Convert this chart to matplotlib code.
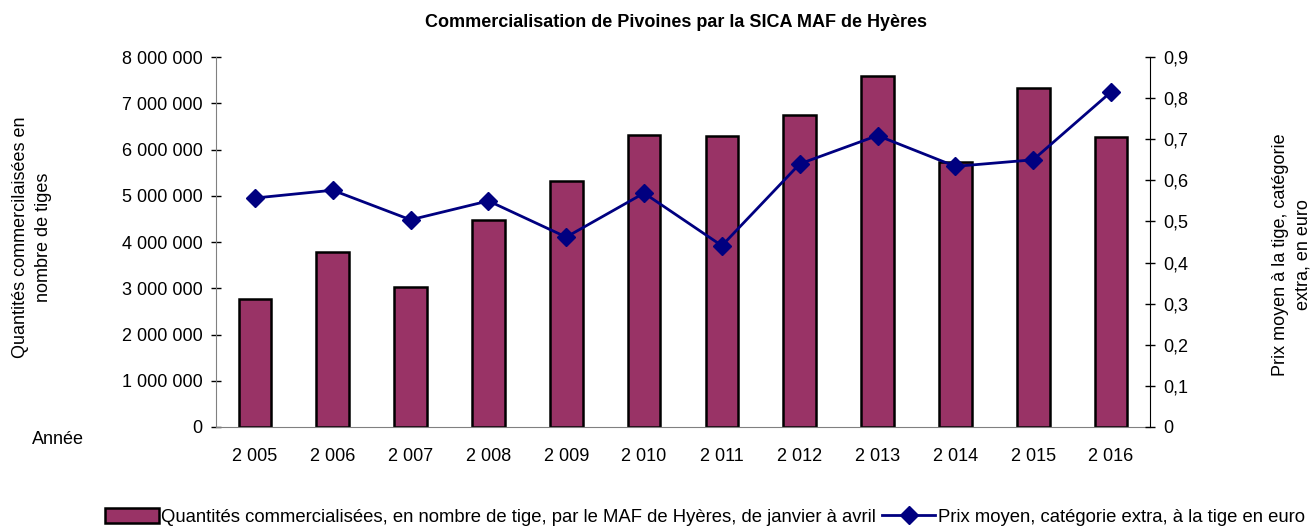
import matplotlib.pyplot as plt
from matplotlib.ticker import FuncFormatter, MultipleLocator

plt.rcParams["font.family"] = ["Liberation Sans", "DejaVu Sans"]

# ---------- DATA ----------
years = [2005, 2006, 2007, 2008, 2009, 2010, 2011, 2012, 2013, 2014, 2015, 2016]
quantites = [2770000, 3780000, 3030000, 4480000, 5330000, 6310000,
             6290000, 6750000, 7580000, 5730000, 7340000, 6260000]
prix = [0.557, 0.576, 0.504, 0.550, 0.462, 0.569,
        0.441, 0.640, 0.709, 0.634, 0.650, 0.815]

bar_label = "Quantités commercialisées, en nombre de tige, par le MAF de Hyères, de janvier à avril"
line_label = "Prix moyen, catégorie extra, à la tige en euro"

fig = plt.figure(figsize=(13.13, 5.28), dpi=100)
ax = fig.add_axes([0.1645, 0.1913, 0.7113, 0.7007])
ax2 = ax.twinx()

x = list(range(len(years)))

# ---------- BARS ----------
ax.bar(x, quantites, width=0.42, color="#993366", edgecolor="black",
       linewidth=1.8, label=bar_label, zorder=2)
ax.set_xlim(-0.5, len(years) - 0.5)
ax.set_ylim(0, 8000000)
ax.yaxis.set_major_locator(MultipleLocator(1000000))
ax.yaxis.set_major_formatter(FuncFormatter(lambda v, p: f"{v:,.0f}".replace(",", " ")))
ax.set_xticks(x)
ax.set_xticklabels([f"{y:,}".replace(",", " ") for y in years])
ax.tick_params(axis="x", length=0, pad=15, labelsize=13)
ax.tick_params(axis="y", direction="inout", length=7, width=1, pad=6, labelsize=13)

# ---------- LINE ----------
ax2.plot(x, prix, color="#000080", linewidth=2, marker="D", markersize=9,
         label=line_label, zorder=3)
ax2.set_ylim(0, 0.9)
ax2.yaxis.set_major_locator(MultipleLocator(0.1))
ax2.yaxis.set_major_formatter(FuncFormatter(
    lambda v, p: "0" if abs(v) < 1e-9 else f"{v:.1f}".replace(".", ",")))
ax2.tick_params(axis="y", direction="inout", length=7, width=1, pad=6, labelsize=13)

for a in (ax, ax2):
    a.spines["top"].set_visible(False)
ax.spines["left"].set_color("#808080")
ax.spines["bottom"].set_color("#808080")
ax.spines["right"].set_visible(False)
ax2.spines["left"].set_visible(False)
ax2.spines["bottom"].set_visible(False)
ax2.spines["right"].set_color("black")

# ---------- TEXTS ----------
fig.text(0.515, 0.958, "Commercialisation de Pivoines par la SICA MAF de Hyères",
         ha="center", va="center", fontsize=13, fontweight="bold")
fig.text(0.0245, 0.551, "Quantités commercilaisées en\nnombre de tiges",
         rotation=90, ha="center", va="center", fontsize=13, linespacing=1.45)
fig.text(0.984, 0.517, "Prix moyen à la tige, catégorie\nextra, en euro",
         rotation=90, ha="center", va="center", fontsize=13, linespacing=1.45)
fig.text(0.044, 0.167, "Année", ha="center", va="center", fontsize=13)

# ---------- LEGEND ----------
h1, l1 = ax.get_legend_handles_labels()
h2, l2 = ax2.get_legend_handles_labels()
fig.legend(h1 + h2, l1 + l2, loc="center", bbox_to_anchor=(0.537, 0.021),
           ncol=2, frameon=False, fontsize=13.3, handlelength=2.9,
           handletextpad=0.15, columnspacing=0.3, handleheight=0.9)

fig.savefig("out.png", dpi=100)
